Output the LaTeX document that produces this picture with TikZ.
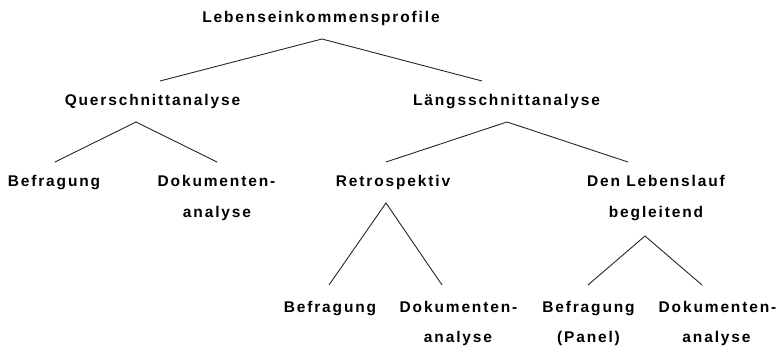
\documentclass[tikz,border=0pt]{standalone}
\usepackage{fontspec}
\setmainfont{Liberation Sans}[LetterSpace=12]
\begin{document}
\begin{tikzpicture}[x=1pt,y=-1pt,
  lbl/.style={anchor=base,inner sep=0pt,font=\fontsize{15.5}{18}\selectfont\bfseries},
  edge/.style={line width=0.9pt,black!85}]
\useasboundingbox (0,0) rectangle (780,352);
% texts
\node[lbl] (root) at (321,23) {Lebenseinkommensprofile};
\node[lbl] (quer) at (152.5,106) {Querschnittanalyse};
\node[lbl] (laengs) at (506.5,106) {Längsschnittanalyse};
\node[lbl] (qbef) at (54,187) {Befragung};
\node[lbl] (qdok) at (216.5,187) {Dokumenten-};
\node[lbl] (qdok2) at (217,218) {analyse};
\node[lbl] (retro) at (393,187) {Retrospektiv};
\node[lbl] (beg) at (656,187) {Den Lebenslauf};
\node[lbl] (beg2) at (656,218) {begleitend};
\node[lbl] (rbef) at (330,313) {Befragung};
\node[lbl] (rdok) at (458.5,313) {Dokumenten-};
\node[lbl] (rdok2) at (458,343) {analyse};
\node[lbl] (bbef) at (588.5,313) {Befragung};
\node[lbl] (bbef2) at (588.5,343) {(Panel)};
\node[lbl] (bdok) at (717.5,313) {Dokumenten-};
\node[lbl] (bdok2) at (716.5,343) {analyse};
% connector points
\coordinate (rootA) at (322,39);
\coordinate (querT) at (160,81);
\coordinate (laengsT) at (482,81);
\coordinate (querA) at (136,122);
\coordinate (qbefT) at (55,162);
\coordinate (qdokT) at (217,162);
\coordinate (laengsA) at (507,122);
\coordinate (retroT) at (386,162);
\coordinate (begT) at (628,162);
\coordinate (retroA) at (386,203);
\coordinate (rbefT) at (329,285);
\coordinate (rdokT) at (442,285);
\coordinate (begA) at (645,236);
\coordinate (bbefT) at (588,285);
\coordinate (bdokT) at (702,285);
% connectors
\draw[edge] (querT) -- (rootA) -- (laengsT);
\draw[edge] (qbefT) -- (querA) -- (qdokT);
\draw[edge] (retroT) -- (laengsA) -- (begT);
\draw[edge] (rbefT) -- (retroA) -- (rdokT);
\draw[edge] (bbefT) -- (begA) -- (bdokT);
\end{tikzpicture}
\end{document}
